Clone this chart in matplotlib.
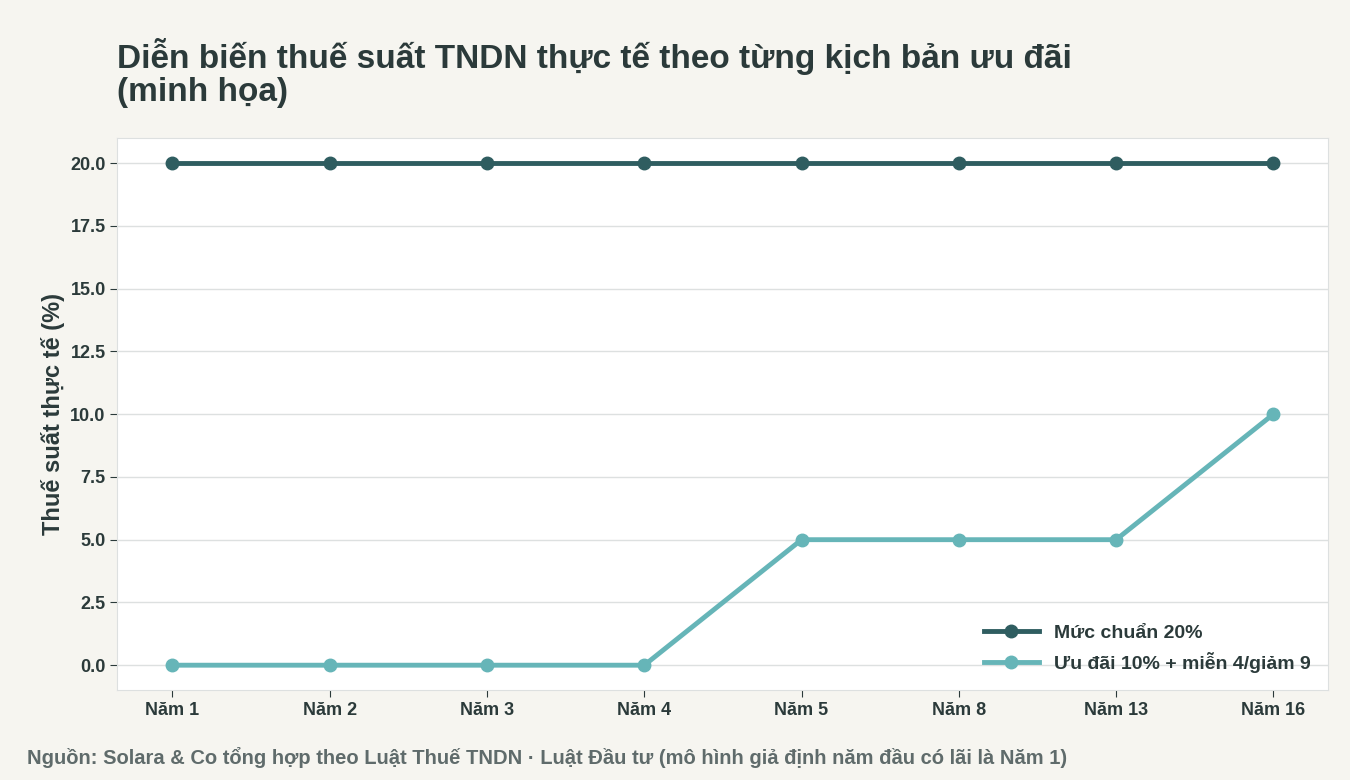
import matplotlib.pyplot as plt

plt.rcParams['font.family'] = ['Liberation Sans', 'DejaVu Sans']

years = ["Năm 1", "Năm 2", "Năm 3", "Năm 4", "Năm 5", "Năm 8", "Năm 13", "Năm 16"]
standard = [20, 20, 20, 20, 20, 20, 20, 20]
incentive = [0, 0, 0, 0, 5, 5, 5, 10]

text_color = "#2b3a3a"
fig = plt.figure(figsize=(13.5, 7.8), dpi=100, facecolor="#f6f5f0")
ax = fig.add_axes([0.087, 0.115, 0.897, 0.708])
ax.set_facecolor("white")

x = range(len(years))
ax.plot(x, standard, color="#2f5d60", lw=3.5, marker="o", ms=9, label="Mức chuẩn 20%")
ax.plot(x, incentive, color="#66b5b8", lw=3.5, marker="o", ms=9, label="Ưu đãi 10% + miễn 4/giảm 9")

ax.set_xticks(list(x))
ax.set_xticklabels(years)
ax.set_xlim(-0.35, 7.35)
ax.set_ylim(-1.0, 21.0)
ax.set_yticks([0, 2.5, 5, 7.5, 10, 12.5, 15, 17.5, 20])
ax.set_yticklabels([f"{v:.1f}" for v in [0, 2.5, 5, 7.5, 10, 12.5, 15, 17.5, 20]])
ax.grid(axis="y", color="#dde0e0", lw=1)
ax.set_axisbelow(True)
for s in ax.spines.values():
    s.set_color("#dde0e0")
ax.tick_params(colors=text_color, labelsize=13, length=5)
for lab in ax.get_xticklabels() + ax.get_yticklabels():
    lab.set_fontweight("bold")
ax.set_ylabel("Thuế suất thực tế (%)", fontsize=17, fontweight="bold", color=text_color)

leg = ax.legend(loc="lower right", frameon=False, fontsize=14, handlelength=2.8)
for t in leg.get_texts():
    t.set_fontweight("bold")
    t.set_color(text_color)

fig.text(0.087, 0.87, "Diễn biến thuế suất TNDN thực tế theo từng kịch bản ưu đãi\n(minh họa)",
         fontsize=24, fontweight="bold", color=text_color, linespacing=1.1)
fig.text(0.02, 0.02, "Nguồn: Solara & Co tổng hợp theo Luật Thuế TNDN · Luật Đầu tư (mô hình giả định năm đầu có lãi là Năm 1)",
         fontsize=14.5, fontweight="bold", color="#5f6b6b")

fig.savefig("out.png", dpi=100, facecolor=fig.get_facecolor())
